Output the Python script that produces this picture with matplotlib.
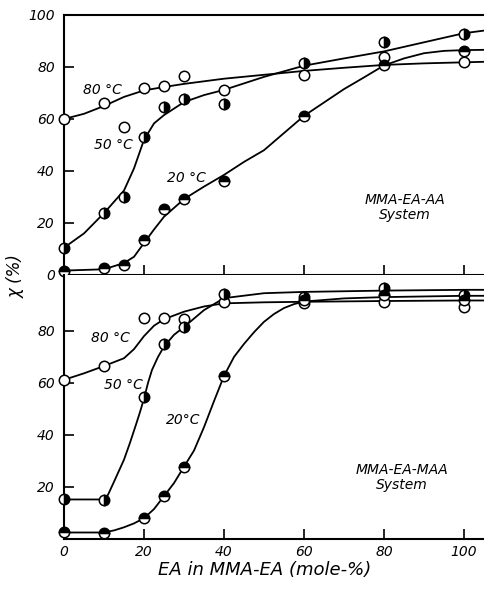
import numpy as np
import matplotlib
matplotlib.use("Agg")
import matplotlib.pyplot as plt

# measured points (EA mole-% vs conversion %)
x_top = [0, 10, 15, 20, 25, 30, 40, 60, 80, 100]
top_80 = [60, 66, 57, 72, 72.5, 76.5, 71, 77, 84, 82]
top_50 = [10.5, 24, 30, 53, 64.7, 67.6, 65.8, 81.4, 89.7, 92.5]
top_20 = [1.7, 2.6, 4, 13.5, 25.4, 29.1, 36, 61.2, 80.8, 86]

x_bot = [0, 10, 20, 25, 30, 40, 60, 80, 100]
bot_80 = [61.2, 66.5, 84.9, 84.9, 84.5, 91, 90.6, 91.3, 89.3]
bot_50 = [15.3, 15, 54.7, 75, 81.4, 94.2, 93, 96.4, 94]
bot_20 = [2.8, 2.2, 8, 16.5, 27.8, 62.7, 92, 93.8, 92]

# hand-drawn fit curves
fit_top_80_x = [0, 5, 10, 15, 20, 25, 30, 40, 50, 60, 70, 80, 90, 100, 105]
fit_top_80_y = [60, 62, 65, 68.5, 71, 72.3, 73.5, 75.5, 77, 78.5, 79.7, 80.8, 81.4, 81.8, 82]
fit_top_50_x = [0, 5, 10, 15, 17.5, 20, 22.5, 25, 30, 35, 40, 50, 60, 70, 80, 90, 100, 105]
fit_top_50_y = [10.5, 16, 23.8, 32.5, 41, 52, 58.3, 61.5, 66.5, 69.2, 71.2, 76.2, 80.5, 83.3, 86, 89.5, 93, 94]
fit_top_20_x = [0, 10, 15, 17.5, 20, 22.5, 25, 30, 35, 40, 45, 50, 60, 70, 75, 80, 85, 90, 95, 100, 105]
fit_top_20_y = [1.7, 2.2, 4.6, 7, 12.3, 17.5, 22.4, 29.2, 34, 38.5, 43.5, 48, 61.2, 71.5, 76, 80.6, 83.3, 85.3, 86.2, 86.5, 86.6]

fit_bot_80_x = [0, 5, 10, 15, 17.5, 20, 22.5, 25, 30, 35, 40, 50, 60, 80, 100, 105]
fit_bot_80_y = [61.2, 63.7, 66.5, 69.5, 73, 78, 82, 84.5, 87.4, 89.4, 90.6, 91, 91.2, 91.5, 91.7, 91.7]
fit_bot_50_x = [0, 10, 11, 12.5, 15, 16.5, 18, 19, 20, 21, 22, 23.5, 25, 27.5, 30, 35, 40, 50, 60, 80, 100, 105]
fit_bot_50_y = [15.2, 15.2, 17, 22, 30.5, 37, 44, 48.8, 54, 60, 65, 70, 74, 78.5, 81.5, 88, 92.6, 94.5, 95, 95.5, 95.8, 95.8]
fit_bot_20_x = [0, 10, 12.5, 15, 17.5, 20, 22.5, 25, 27.5, 30, 32.5, 35, 37.5, 40, 42.5, 45,
                47.5, 50, 52.5, 55, 57.5, 60, 70, 80, 100, 105]
fit_bot_20_y = [2.5, 2.5, 3.3, 4.5, 6, 8, 11.5, 16.5, 21.5, 27.8, 34, 43, 53, 62.7, 70, 75,
                79.5, 83.5, 86.5, 88.8, 90.3, 91.3, 92.5, 93, 93.5, 93.5]

plt.rcParams["font.family"] = "DejaVu Sans"
plt.rcParams["font.style"] = "italic"

fig = plt.figure(figsize=(4.84, 5.92), dpi=100)
W, H = 484, 592
ax_top = fig.add_axes([64 / W, 1 - 275 / H, 420 / W, 260 / H])
ax_bot = fig.add_axes([64 / W, 1 - 539 / H, 420 / W, 264 / H])

mk = dict(marker="o", ms=7.5, mew=1.1, mec="black", mfc="black",
          markerfacecoloralt="white", linestyle="none", zorder=3, clip_on=False)
ln = dict(color="black", lw=1.3, zorder=2)


def draw(ax, xs, y80, y50, y20, fits):
    for fx, fy in fits:
        ax.plot(fx, fy, **ln)
    ax.plot(xs, y80, **{**mk, "mfc": "white"})
    ax.plot(xs, y50, fillstyle="right", **mk)
    ax.plot(xs, y20, fillstyle="top", **mk)


draw(ax_top, x_top, top_80, top_50, top_20,
     [(fit_top_80_x, fit_top_80_y), (fit_top_50_x, fit_top_50_y), (fit_top_20_x, fit_top_20_y)])
draw(ax_bot, x_bot, bot_80, bot_50, bot_20,
     [(fit_bot_80_x, fit_bot_80_y), (fit_bot_50_x, fit_bot_50_y), (fit_bot_20_x, fit_bot_20_y)])

for ax in (ax_top, ax_bot):
    ax.set_xlim(0, 105)
    ax.spines["right"].set_visible(False)
    for s in ax.spines.values():
        s.set_linewidth(1.5)
    ax.tick_params(direction="in", length=7, width=1.2, labelsize=10)
    ax.tick_params(axis="y", pad=6.5)
    ax.tick_params(axis="x", pad=4)

ax_top.set_ylim(0, 100)
ax_top.set_yticks([0, 20, 40, 60, 80, 100])
ax_top.set_xticks([20, 40, 60, 80, 100])
ax_top.tick_params(axis="x", labelbottom=False)

ax_bot.set_ylim(0, 101.5)
ax_bot.set_yticks([20, 40, 60, 80])
ax_bot.set_xticks([0, 20, 40, 60, 80, 100])
ax_bot.spines["top"].set_visible(False)

tk = dict(fontsize=10, ha="center", va="center")
ax_top.text(9.6, 71.2, "80 °C", **tk)
ax_top.text(12.3, 50, "50 °C", **tk)
ax_top.text(30.7, 37.3, "20 °C", **tk)
ax_bot.text(11.5, 77.3, "80 °C", **tk)
ax_bot.text(14.8, 59.2, "50 °C", **tk)
ax_bot.text(29.7, 45.8, "20°C", **tk)

ax_top.text(85.3, 25.8, "MMA-EA-AA\nSystem", fontsize=10, ha="center", va="center",
            linespacing=1.1)
ax_bot.text(84.5, 23.7, "MMA-EA-MAA\nSystem", fontsize=10, ha="center", va="center",
            linespacing=1.1)

fig.text(265 / W, 1 - 570 / H, "EA in MMA-EA (mole-%)", fontsize=13,
         ha="center", va="center")
fig.text(16 / W, 1 - 276 / H, "χ (%)", fontsize=12, rotation=90,
         ha="center", va="center")

fig.savefig("out.png", dpi=100)
